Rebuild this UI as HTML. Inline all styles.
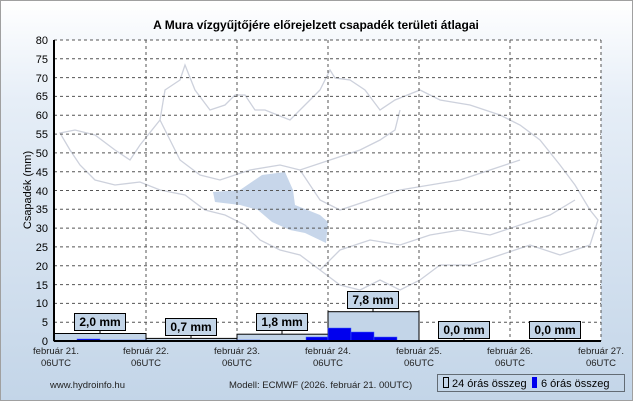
<!DOCTYPE html>
<html><head><meta charset="utf-8"><style>
body{margin:0;width:633px;height:401px;overflow:hidden}
#c{position:absolute;left:0;top:0;width:631px;height:399px;border:1px solid #a0a0a0;background:linear-gradient(#ffffff 0%,#e6eef7 25%,#c3d5e8 100%)}
svg{position:absolute;left:0;top:0}
text{font-family:"Liberation Sans",sans-serif}
</style></head><body><div id="c"></div>
<svg width="633" height="401" xmlns="http://www.w3.org/2000/svg">
<rect x="54" y="40" width="547" height="301" fill="#fff"/>
<g fill="none" stroke="#cdd1dc" stroke-width="1.3">
<path d="M60 133 L75 130 L95 135 L115 150 L130 160 L140 145 L160 120 L165 90 L180 80 L185 65 L195 90 L210 110 L225 105 L235 95 L245 95 L255 110 L265 110 L290 120 L310 100 L320 90 L330 70 L335 78 L350 80 L365 90 L380 110 L395 100 L420 90 L440 100 L470 105 L500 115 L520 125 L540 140 L560 165 L575 185 L590 210 L598 220 L590 245 L560 255 L530 245 L500 255 L470 265 L440 265 L420 280 L400 290 L380 280 L360 290 L340 285 L320 270 L300 255 L280 250 L260 240 L245 225 L225 215 L205 210 L185 195 L160 190 L140 182 L115 185 L95 180 L80 165 L70 150 Z"/>
<path d="M160 120 L170 140 L180 160 L200 175 L220 180 L250 170 L280 165 L300 170 L330 160 L360 150 L380 140 L395 130 L400 110"/>
<path d="M320 270 L340 250 L370 240 L400 245 L430 235 L460 230 L490 235 L520 225 L550 215 L575 200"/>
<path d="M300 170 L320 200 L340 210 L370 200 L400 190 L430 185 L460 180 L490 170 L520 160"/>
</g>
<path d="M213 192 L240 190 L262 175 L285 172 L293 190 L295 205 L320 215 L328 222 L326 243 L305 233 L290 230 L272 222 L258 210 L240 205 L215 202 Z" fill="#c7d6ea"/>
<g stroke="#555" stroke-dasharray="3,3" stroke-width="1">
<line x1="54" x2="601" y1="40" y2="40"/><line x1="54" x2="601" y1="58.8" y2="58.8"/><line x1="54" x2="601" y1="77.6" y2="77.6"/><line x1="54" x2="601" y1="96.4" y2="96.4"/><line x1="54" x2="601" y1="115.2" y2="115.2"/><line x1="54" x2="601" y1="134.1" y2="134.1"/><line x1="54" x2="601" y1="152.9" y2="152.9"/><line x1="54" x2="601" y1="171.7" y2="171.7"/><line x1="54" x2="601" y1="190.5" y2="190.5"/><line x1="54" x2="601" y1="209.3" y2="209.3"/><line x1="54" x2="601" y1="228.1" y2="228.1"/><line x1="54" x2="601" y1="246.9" y2="246.9"/><line x1="54" x2="601" y1="265.8" y2="265.8"/><line x1="54" x2="601" y1="284.6" y2="284.6"/><line x1="54" x2="601" y1="303.4" y2="303.4"/><line x1="54" x2="601" y1="322.2" y2="322.2"/>
<line x1="146" x2="146" y1="40" y2="341"/><line x1="237" x2="237" y1="40" y2="341"/><line x1="328" x2="328" y1="40" y2="341"/><line x1="419" x2="419" y1="40" y2="341"/><line x1="510" x2="510" y1="40" y2="341"/><line x1="601" x2="601" y1="40" y2="341"/>
</g>
<g fill="#c3d5e8" stroke="#000" stroke-width="1">
<rect x="54" y="333.5" width="92" height="7.5"/><rect x="146" y="338.4" width="91" height="2.6"/><rect x="237" y="334.2" width="91" height="6.8"/><rect x="328" y="311.7" width="91" height="29.3"/>
</g>
<g fill="#0000ee" stroke="#4060ff" stroke-width="0.5">
<rect x="77" y="339" width="23" height="2"/><rect x="100" y="340" width="46" height="1"/><rect x="237" y="340" width="23" height="1"/><rect x="306" y="337" width="22" height="4"/>
<rect x="328" y="328" width="23" height="13"/><rect x="351" y="332" width="23" height="9"/><rect x="374" y="337" width="23" height="4"/>
</g>
<g stroke="#000" stroke-width="1"><line x1="54" x2="601" y1="341" y2="341" stroke-width="2"/><line x1="54" x2="54" y1="40" y2="341" stroke-width="2"/>
<line x1="100" x2="100" y1="330" y2="333.5"/><line x1="191" x2="191" y1="335" y2="338.4"/><line x1="282" x2="282" y1="330" y2="334.2"/><line x1="373" x2="373" y1="309" y2="311.7"/><line x1="464" x2="464" y1="338" y2="341"/><line x1="555" x2="555" y1="338" y2="341"/></g>
<g fill="#c3d5e8" stroke="#000" stroke-width="1">
<rect x="74.5" y="313.5" width="51" height="17"/><rect x="165.5" y="318.5" width="51" height="17"/><rect x="256.5" y="313.5" width="51" height="17"/><rect x="347.5" y="291.5" width="51" height="17"/><rect x="438.5" y="321.5" width="51" height="17"/><rect x="529.5" y="321.5" width="51" height="17"/>
</g>
<g font-size="12" font-weight="bold" text-anchor="middle">
<text x="100" y="326">2,0 mm</text><text x="191" y="331">0,7 mm</text><text x="282" y="326">1,8 mm</text><text x="373" y="304">7,8 mm</text><text x="464" y="334">0,0 mm</text><text x="555" y="334">0,0 mm</text>
</g>
<text x="316" y="29" font-size="12" font-weight="bold" text-anchor="middle">A Mura vízgyűjtőjére előrejelzett csapadék területi átlagai</text>
<g font-size="11" text-anchor="end">
<text x="48" y="44">80</text><text x="48" y="63">75</text><text x="48" y="82">70</text><text x="48" y="100">65</text><text x="48" y="119">60</text><text x="48" y="138">55</text><text x="48" y="157">50</text><text x="48" y="176">45</text><text x="48" y="195">40</text><text x="48" y="213">35</text><text x="48" y="232">30</text><text x="48" y="251">25</text><text x="48" y="270">20</text><text x="48" y="289">15</text><text x="48" y="307">10</text><text x="48" y="326">5</text><text x="48" y="345">0</text>
</g>
<text transform="translate(31,190) rotate(-90)" font-size="11" text-anchor="middle">Csapadék (mm)</text>
<g font-size="9.5" text-anchor="middle" fill="#222">
<text x="56" y="354">február 21.</text><text x="56" y="366">06UTC</text>
<text x="146" y="354">február 22.</text><text x="146" y="366">06UTC</text>
<text x="237" y="354">február 23.</text><text x="237" y="366">06UTC</text>
<text x="328" y="354">február 24.</text><text x="328" y="366">06UTC</text>
<text x="419" y="354">február 25.</text><text x="419" y="366">06UTC</text>
<text x="510" y="354">február 26.</text><text x="510" y="366">06UTC</text>
<text x="601" y="354">február 27.</text><text x="601" y="366">06UTC</text>
</g>
<text x="50" y="388" font-size="9.5" fill="#222">www.hydroinfo.hu</text>
<text x="229" y="388" font-size="9.5" fill="#222">Modell: ECMWF (2026. február 21. 00UTC)</text>
<rect x="437.5" y="374.5" width="187" height="17" fill="none" stroke="#000" stroke-dasharray="1,1"/>
<rect x="443.5" y="377.5" width="5" height="10" fill="none" stroke="#000"/>
<rect x="532" y="377" width="5" height="11" fill="#0000ee"/>
<text x="452" y="387" font-size="11">24 órás összeg</text>
<text x="541" y="387" font-size="11">6 órás összeg</text>
</svg></body></html>
